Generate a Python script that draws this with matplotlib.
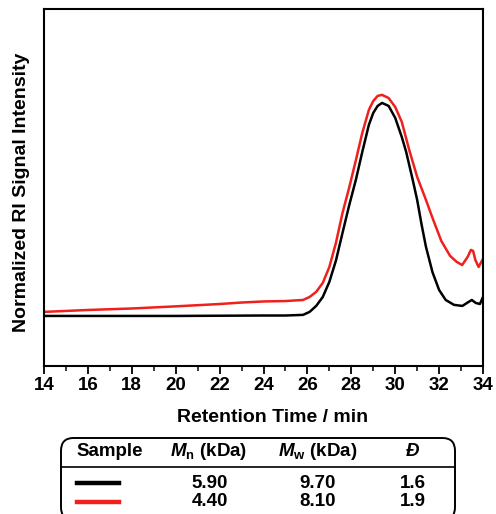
import matplotlib
matplotlib.use("Agg")
import matplotlib.pyplot as plt
from matplotlib.patches import FancyBboxPatch
from matplotlib.lines import Line2D

plt.rcParams["font.family"] = ["Liberation Sans", "DejaVu Sans"]
plt.rcParams["font.weight"] = "bold"
plt.rcParams["mathtext.fontset"] = "custom"
plt.rcParams["mathtext.rm"] = "Liberation Sans:bold"
plt.rcParams["mathtext.it"] = "Liberation Sans:bold:italic"
plt.rcParams["mathtext.bf"] = "Liberation Sans:bold"

# retention time (min) and normalized RI signal
black_t = [14.0, 20.0, 24.0, 25.0, 25.8, 26.1, 26.4, 26.7, 27.0, 27.3, 27.6, 27.9,
           28.21, 28.5, 28.8, 29.0, 29.2, 29.4, 29.7, 30.0, 30.3, 30.5, 30.8, 31.0,
           31.2, 31.4, 31.7, 32.0, 32.3, 32.68, 33.06, 33.27, 33.49, 33.67, 33.86, 34.0]
black_y = [0.000, 0.000, 0.002, 0.002, 0.005, 0.019, 0.047, 0.089, 0.160, 0.260, 0.390, 0.518,
           0.640, 0.770, 0.897, 0.953, 0.986, 1.000, 0.986, 0.930, 0.840, 0.770, 0.638, 0.545,
           0.430, 0.325, 0.205, 0.122, 0.075, 0.052, 0.047, 0.061, 0.075, 0.061, 0.056, 0.089]

red_t = [14.0, 16.0, 18.0, 20.0, 22.0, 23.0, 24.0, 25.0, 25.8, 26.1, 26.4, 26.7, 27.0,
         27.3, 27.6, 27.9, 28.21, 28.5, 28.8, 29.0, 29.2, 29.4, 29.7, 30.0, 30.3, 30.64,
         31.0, 31.4, 31.7, 32.1, 32.5, 32.8, 33.05, 33.3, 33.45, 33.55, 33.65, 33.8, 34.0]
red_y = [0.019, 0.028, 0.035, 0.045, 0.056, 0.063, 0.068, 0.070, 0.075, 0.089, 0.113, 0.155, 0.230,
         0.343, 0.484, 0.601, 0.732, 0.859, 0.967, 1.009, 1.033, 1.038, 1.023, 0.981, 0.911, 0.779,
         0.653, 0.545, 0.460, 0.352, 0.282, 0.254, 0.239, 0.277, 0.310, 0.305, 0.263, 0.230, 0.268]

samples = [("black", "5.90", "9.70", "1.6"), ("red", "4.40", "8.10", "1.9")]
line_colors = {"black": "#000000", "red": "#f0201c"}

fig = plt.figure(figsize=(4.96, 5.14), dpi=100)
W, H = 496, 514
ax = fig.add_axes([44 / W, 1 - 366 / H, (483 - 44) / W, (366 - 9) / H])

ax.plot(black_t, black_y, color=line_colors["black"], lw=1.8)
ax.plot(red_t, red_y, color=line_colors["red"], lw=1.8)

ax.set_xlim(14, 34)
ax.set_ylim(-0.235, 1.441)
ax.set_xticks(range(14, 35, 2))
ax.set_xticks(range(15, 34, 2), minor=True)
ax.set_yticks([])
ax.tick_params(axis="x", which="major", direction="out", length=6, width=1.3,
               labelsize=13.5, pad=2)
ax.tick_params(axis="x", which="minor", direction="out", length=3.5, width=1.1)
for lab in ax.get_xticklabels():
    lab.set_fontweight("bold")
for sp in ax.spines.values():
    sp.set_linewidth(1.5)

ax.set_xlabel("Retention Time / min", fontsize=14, fontweight="bold")
ax.set_ylabel("Normalized RI Signal Intensity", fontsize=14, fontweight="bold")
ax.xaxis.set_label_coords((273 - 44) / 439, -(417 - 366) / 357, transform=ax.transAxes)
ax.yaxis.set_label_coords(-(44 - 22) / 439, (366 - 192) / 357, transform=ax.transAxes)
ax.xaxis.label.set_va("center")
ax.yaxis.label.set_va("center")


# table box below the plot
def fx(px):
    return px / W


def fy(py):
    return 1 - py / H


box = FancyBboxPatch((fx(61), fy(520)), fx(455) - fx(61), fy(438) - fy(520),
                     boxstyle="round,pad=0,rounding_size=0.025",
                     transform=fig.transFigure, fill=False, lw=1.4, ec="black")
fig.patches.append(box)
fig.add_artist(Line2D([fx(61), fx(455)], [fy(467), fy(467)], color="black", lw=1.2,
                      transform=fig.transFigure))

hy = fy(451)
fs = 13.5
fig.text(fx(110), hy, "Sample", ha="center", va="center", fontsize=fs, fontweight="bold")
fig.text(fx(209), hy, r"$\mathit{M}_{\mathrm{n}}$ (kDa)", ha="center", va="center",
         fontsize=fs, fontweight="bold")
fig.text(fx(318), hy, r"$\mathit{M}_{\mathrm{w}}$ (kDa)", ha="center", va="center",
         fontsize=fs, fontweight="bold")
fig.text(fx(413), hy, "Đ", ha="center", va="center", fontsize=fs, fontweight="bold",
         style="italic")

row_y = [fy(483), fy(502)]
for (key, mn, mw, d), ry in zip(samples, row_y):
    fig.add_artist(Line2D([fx(77), fx(119)], [ry, ry], color=line_colors[key], lw=3.2,
                          transform=fig.transFigure))
    fig.text(fx(210), ry, mn, ha="center", va="center", fontsize=fs, fontweight="bold")
    fig.text(fx(318), ry, mw, ha="center", va="center", fontsize=fs, fontweight="bold")
    fig.text(fx(413), ry, d, ha="center", va="center", fontsize=fs, fontweight="bold")

fig.savefig("out.png", dpi=100)
